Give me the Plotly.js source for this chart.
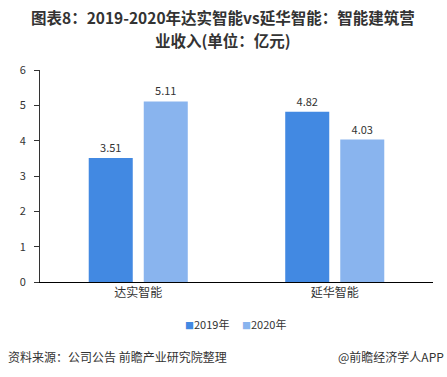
<!DOCTYPE html>
<html>
<head>
<meta charset="utf-8">
<script src="https://cdn.plot.ly/plotly-3.0.1.min.js"></script>
<style>html,body{margin:0;padding:0;background:#fff;}#chart{width:447px;height:377px;}</style>
</head>
<body>
<div id="chart"></div>
<script>
const categories = ['达实智能', '延华智能'];
const series2019 = [3.51, 4.82];
const series2020 = [5.11, 4.03];
const seriesNames = ['2019年', '2020年'];
const yTicks = [0, 1, 2, 3, 4, 5, 6];
const titleLines = ['图表8：2019-2020年达实智能vs延华智能：智能建筑营', '业收入(单位：亿元)'];

const font = '"Noto Sans CJK SC", "Noto Sans", sans-serif';
const colors = ['#4289e2', '#89b4ee'];

const traces = [series2019, series2020].map((vals, i) => ({
  type: 'bar',
  name: seriesNames[i],
  x: categories,
  y: vals,
  marker: {color: colors[i]},
  text: vals.map(v => v.toFixed(2)),
  textposition: 'outside',
  textfont: {family: font, size: 11, color: '#333'},
  cliponaxis: false,
  hoverinfo: 'none',
  showlegend: false
}));

// pixel -> paper helpers (plot area x: 40..433, y: 70..282)
const px = x => (x - 40) / 393;
const py = y => (282 - y) / 212;

const titleY = [17.5, 39.5];
const annotations = titleLines.map((t, i) => ({
  text: '<b>' + t + '</b>',
  xref: 'paper', yref: 'paper', x: px(223), y: py(titleY[i]),
  xanchor: 'center', yanchor: 'middle',
  showarrow: false, font: {family: font, size: 15.5, color: '#333'}
}));

// legend as text
const legendX = [183, 240];
seriesNames.forEach((n, i) => {
  annotations.push({
    text: '<span style="color:' + colors[i] + ';font-size:9px">■</span>' + n,
    xref: 'paper', yref: 'paper', x: px(legendX[i]), y: py(324),
    xanchor: 'left', yanchor: 'middle', showarrow: false,
    font: {family: font, size: 11, color: '#333'}
  });
});

annotations.push(
  {
    text: '资料来源：公司公告 前瞻产业研究院整理',
    xref: 'paper', yref: 'paper', x: px(6), y: py(356),
    xanchor: 'left', yanchor: 'middle', showarrow: false,
    font: {family: font, size: 12, color: '#333'}
  },
  {
    text: '@前瞻经济学人APP',
    xref: 'paper', yref: 'paper', x: px(446), y: py(356),
    xanchor: 'right', yanchor: 'middle', showarrow: false,
    font: {family: font, size: 12, color: '#333'}
  }
);

const layout = {
  width: 447, height: 377,
  margin: {l: 40, r: 14, t: 70, b: 95},
  paper_bgcolor: '#fff', plot_bgcolor: '#fff',
  font: {family: font, size: 11, color: '#333'},
  bargap: 0.44,
  bargroupgap: 0.2,
  barmode: 'group',
  xaxis: {
    type: 'category',
    range: [-0.5, 1.5],
    showline: true, linecolor: '#000', linewidth: 1,
    ticks: '', showgrid: false, zeroline: false,
    tickfont: {family: font, size: 12, color: '#333'},
    fixedrange: true
  },
  yaxis: {
    range: [0, 6],
    tickvals: yTicks,
    showline: true, linecolor: '#333', linewidth: 1,
    ticks: 'outside', ticklen: 5, tickcolor: '#333',
    showgrid: false, zeroline: false,
    tickfont: {family: font, size: 11, color: '#333'},
    ticklabelstandoff: 6,
    fixedrange: true
  },
  showlegend: false,
  annotations: annotations
};

Plotly.newPlot('chart', traces, layout, {displayModeBar: false, staticPlot: true});
</script>
</body>
</html>
